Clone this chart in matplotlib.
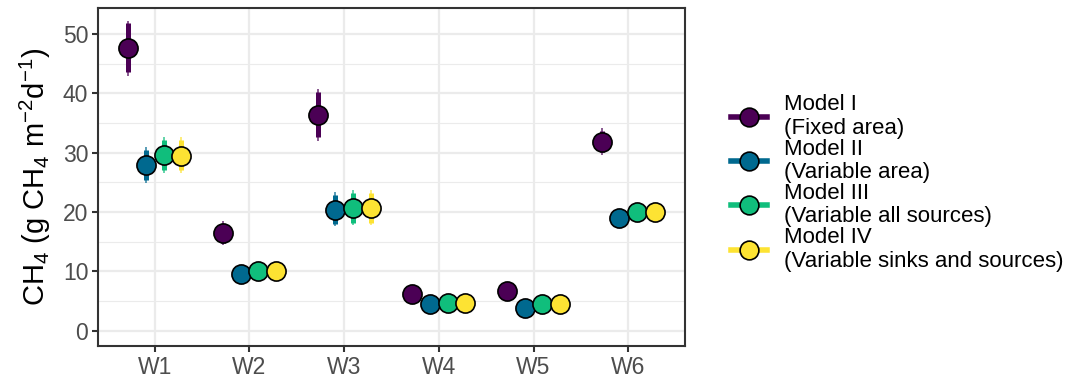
import numpy as np
import matplotlib
matplotlib.use("Agg")
import matplotlib.pyplot as plt
from matplotlib.lines import Line2D

plt.rcParams['font.family'] = ['Liberation Sans', 'DejaVu Sans']
plt.rcParams['mathtext.default'] = 'regular'

# data
sites = ["W1", "W2", "W3", "W4", "W5", "W6"]
models = ["Model I\n(Fixed area)", "Model II\n(Variable area)",
          "Model III\n(Variable all sources)", "Model IV\n(Variable sinks and sources)"]
colors = ["#4B0055", "#00698F", "#10BE7C", "#FDE333"]

mean_I = [47.6, 16.4, 36.4, 6.2, 6.7, 31.8]
mean_II = [27.9, 9.5, 20.4, 4.5, 3.8, 19.0]
mean_III = [29.6, 10.1, 20.7, 4.6, 4.5, 20.0]
mean_IV = [29.5, 10.1, 20.7, 4.6, 4.5, 20.0]

# inner (thick) interval
lo50_I = [43.6, 14.8, 32.6, 5.6, 6.1, 30.1]
hi50_I = [51.8, 18.0, 40.2, 6.8, 7.3, 33.6]
lo50_II = [25.4, 9.1, 18.0, 4.2, 3.5, 18.6]
hi50_II = [30.5, 9.9, 22.9, 4.8, 4.1, 19.4]
lo50_III = [27.0, 9.7, 18.2, 4.3, 4.2, 19.6]
hi50_III = [32.2, 10.5, 23.2, 4.9, 4.8, 20.4]
lo50_IV = [27.0, 9.7, 18.2, 4.3, 4.2, 19.6]
hi50_IV = [32.2, 10.5, 23.2, 4.9, 4.8, 20.4]

# outer (thin) interval
lo95_I = [43.0, 14.5, 32.0, 5.4, 5.9, 29.6]
hi95_I = [52.2, 18.4, 40.7, 7.0, 7.5, 34.1]
lo95_II = [24.9, 8.9, 17.6, 4.0, 3.3, 18.3]
hi95_II = [30.9, 10.1, 23.3, 5.0, 4.3, 19.7]
lo95_III = [26.5, 9.5, 17.8, 4.1, 4.0, 19.4]
hi95_III = [32.7, 10.7, 23.7, 5.1, 5.0, 20.6]
lo95_IV = [26.5, 9.5, 17.8, 4.1, 4.0, 19.4]
hi95_IV = [32.7, 10.7, 23.7, 5.1, 5.0, 20.6]

means = [mean_I, mean_II, mean_III, mean_IV]
lo50 = [lo50_I, lo50_II, lo50_III, lo50_IV]
hi50 = [hi50_I, hi50_II, hi50_III, hi50_IV]
lo95 = [lo95_I, lo95_II, lo95_III, lo95_IV]
hi95 = [hi95_I, hi95_II, hi95_III, hi95_IV]

fig = plt.figure(figsize=(10.81, 3.84), dpi=100)
ax = fig.add_axes([98/1081, 1 - 346/384, (685 - 98)/1081, (346 - 8)/384])

x = np.arange(1, len(sites) + 1)
dodge = 0.75
offsets = [(-1.5 + i) * dodge / 4 for i in range(4)]

for i in range(4):
    xs = x + offsets[i]
    ax.vlines(xs, lo95[i], hi95[i], color=colors[i], lw=1.3, alpha=0.7, zorder=3)
    ax.vlines(xs, lo50[i], hi50[i], color=colors[i], lw=3.6, zorder=3)
    ax.scatter(xs, means[i], s=190, color=colors[i], edgecolors="black",
               linewidths=1.2, zorder=4)

ax.set_xlim(0.4, 6.6)
ax.set_ylim(-2.6, 54.4)
ax.set_xticks(x)
ax.set_xticklabels(sites)
ax.set_yticks([0, 10, 20, 30, 40, 50])
ax.set_yticks([5, 15, 25, 35, 45], minor=True)
ax.grid(True, which="major", color="#EBEBEB", lw=1.6, zorder=0)
ax.grid(True, which="minor", color="#EBEBEB", lw=0.8, zorder=0)
ax.set_axisbelow(True)
for s in ax.spines.values():
    s.set_color("#333333")
    s.set_linewidth(1.5)
ax.tick_params(which="major", length=4, width=1.5, color="#333333",
               labelsize=16.5, labelcolor="#4D4D4D", pad=3)
ax.tick_params(which="minor", length=0)
ax.set_ylabel("CH$_4$ (g CH$_4$ m$^{-2}$d$^{-1}$)", fontsize=21, labelpad=7)

handles = [Line2D([0], [0], color=c, lw=4, marker="o", markersize=13.5,
                  markerfacecolor=c, markeredgecolor="black", markeredgewidth=1.2)
           for c in colors]
leg = fig.legend(handles, models, loc="center left", bbox_to_anchor=(711/1081, 1 - 183/384),
                 frameon=False, fontsize=16, handlelength=1.6, handletextpad=0.8,
                 labelspacing=0.0)
for t in leg.get_texts():
    t.set_linespacing(1.15)

fig.savefig("out.png", dpi=100)
